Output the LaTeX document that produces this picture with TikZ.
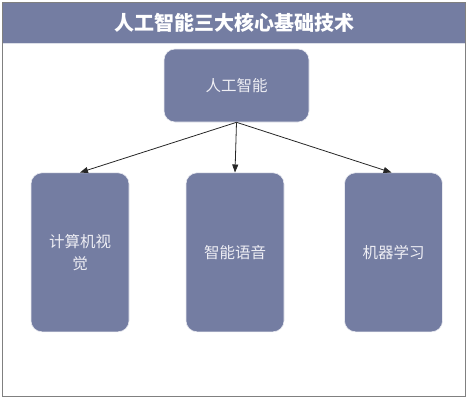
\documentclass[tikz,border=0pt]{standalone}
\usepackage{fontspec}
\setmainfont{Noto Sans CJK SC}
\newfontfamily\cjkbold[BoldFont=*]{Noto Sans CJK SC}
\usetikzlibrary{arrows.meta}
\definecolor{boxfill}{RGB}{116,125,162}
\definecolor{boxtext}{RGB}{238,238,244}
\definecolor{framegray}{RGB}{128,128,128}
\tikzset{
  x=1pt,y=-1pt,
  cbox/.style={draw=white!85!boxfill,line width=0.6pt,fill=boxfill,rounded corners=11pt,
    text=boxtext,font=\fontsize{15.5}{21.6}\selectfont,align=center,inner sep=0pt},
  conn/.style={draw=black!85,line width=0.8pt,-{Triangle[length=8pt,width=6pt]}}
}
\begin{document}
\begin{tikzpicture}
\useasboundingbox (0,0) rectangle (468,400);
\fill[boxfill] (2.5,2.5) rectangle (465.5,43);
\draw[white!75!boxfill,line width=1pt] (2.5,43.5) -- (465.5,43.5);
\draw[framegray,line width=1pt] (2.5,2.5) rectangle (465.5,396.5);
\node[text=white,font=\fontsize{20}{24}\selectfont\bfseries] (title) at (234,23) {人工智能三大核心基础技术};
\node[cbox,minimum width=145pt,minimum height=73pt] (ai) at (236.5,85.5) {人工智能};
\node[cbox,minimum width=98pt,minimum height=159pt,text width=90pt] (cv) at (80,252.3) {计算机视\\觉};
\node[cbox,minimum width=98pt,minimum height=159pt] (sp) at (235,252.3) {智能语音};
\node[cbox,minimum width=98pt,minimum height=159pt] (ml) at (393.5,252.3) {机器学习};
\draw[conn] (ai.south) -- (cv.north);
\draw[conn] (ai.south) -- (sp.north);
\draw[conn] (ai.south) -- ([xshift=-2pt]ml.north);
\end{tikzpicture}
\end{document}
